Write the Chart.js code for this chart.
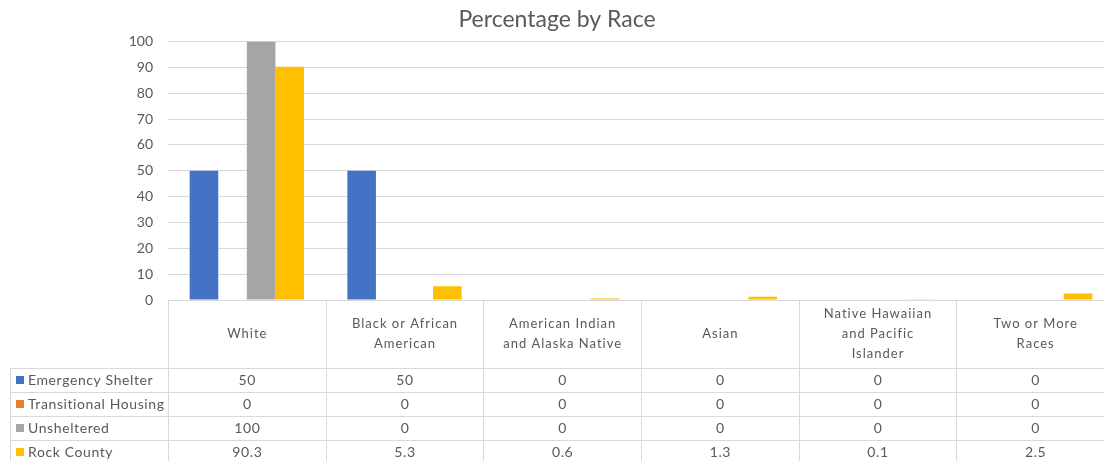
<!DOCTYPE html>
<html>
<head>
<meta charset="utf-8">
<script src="https://cdn.jsdelivr.net/npm/chart.js@4/dist/chart.umd.min.js"></script>
<style>
  html, body { margin: 0; padding: 0; background: #ffffff; overflow: hidden; width: 1104px; height: 461px; }
  #wrap { position: absolute; left: 0; top: 0; width: 1114px; height: 461px; }
</style>
</head>
<body>
<div id="wrap"><canvas id="c" width="1114" height="461"></canvas></div>
<script>
// ---- data ----
const categories = [
  ['White'],
  ['Black or African', 'American'],
  ['American Indian', 'and Alaska Native'],
  ['Asian'],
  ['Native Hawaiian', 'and Pacific', 'Islander'],
  ['Two or More', 'Races']
];
const seriesNames = ['Emergency Shelter', 'Transitional Housing', 'Unsheltered', 'Rock County'];
const emergencyShelter    = [50, 50, 0, 0, 0, 0];
const transitionalHousing = [0, 0, 0, 0, 0, 0];
const unsheltered         = [100, 0, 0, 0, 0, 0];
const rockCounty          = [90.3, 5.3, 0.6, 1.3, 0.1, 2.5];
const yTicks = [0, 10, 20, 30, 40, 50, 60, 70, 80, 90, 100];

// ---- styles ----
const colors = ['#4472C4', '#ED7D31', '#A5A5A5', '#FFC000'];
const textColor = '#595959';
const lineColor = '#d9d9d9';
const fontFamily = 'Lato, "Liberation Sans", sans-serif';

const seriesValues = [emergencyShelter, transitionalHousing, unsheltered, rockCounty];

const dataTablePlugin = {
  id: 'dataTable',
  afterDraw(chart) {
    const ctx = chart.ctx;
    const area = chart.chartArea;
    const xs = chart.scales.x;
    const n = categories.length;
    const colW = (area.right - area.left) / n;
    const top = area.bottom;
    const headerBottom = top + 68;
    const rowH = 24;
    const tableLeft = 10;
    const bottom = chart.height + 10;
    ctx.save();
    ctx.strokeStyle = lineColor;
    ctx.lineWidth = 1;
    // vertical lines
    for (let i = 0; i <= n; i++) {
      const x = Math.round(xs.getPixelForValue(i) - colW / 2) + 0.5;
      ctx.beginPath(); ctx.moveTo(x, top); ctx.lineTo(x, bottom); ctx.stroke();
    }
    // left table border
    ctx.beginPath(); ctx.moveTo(tableLeft + 0.5, headerBottom); ctx.lineTo(tableLeft + 0.5, bottom); ctx.stroke();
    // horizontal lines
    for (let r = 0; r <= seriesNames.length; r++) {
      const y = Math.round(headerBottom + r * rowH) + 0.5;
      ctx.beginPath(); ctx.moveTo(tableLeft, y); ctx.lineTo(chart.width, y); ctx.stroke();
    }
    // header labels
    ctx.fillStyle = textColor;
    ctx.font = '13px ' + fontFamily;
    ctx.letterSpacing = '1px';
    ctx.textAlign = 'center';
    ctx.textBaseline = 'middle';
    const lh = 20;
    categories.forEach((lines, i) => {
      const cx = xs.getPixelForValue(i) + 0.5;
      const cy = (top + headerBottom) / 2;
      const start = cy - (lines.length - 1) * lh / 2;
      lines.forEach((t, k) => ctx.fillText(t, cx, start + k * lh));
    });
    // rows
    ctx.font = '14px ' + fontFamily;
    ctx.letterSpacing = '0.6px';
    seriesNames.forEach((name, r) => {
      const cy = headerBottom + r * rowH + rowH / 2;
      ctx.fillStyle = colors[r];
      ctx.fillRect(16, Math.round(cy - 4), 8, 8);
      ctx.fillStyle = textColor;
      ctx.textAlign = 'left';
      ctx.fillText(name, 28, cy);
      ctx.textAlign = 'center';
      seriesValues[r].forEach((v, i) => {
        ctx.fillText(String(v), xs.getPixelForValue(i) + 0.5, cy);
      });
    });
    ctx.restore();
  }
};

new Chart(document.getElementById('c'), {
  type: 'bar',
  data: {
    labels: categories,
    datasets: seriesNames.map((name, i) => ({
      label: name,
      data: seriesValues[i],
      backgroundColor: colors[i],
      borderWidth: 0,
      categoryPercentage: 0.725,
      barPercentage: 1.0
    }))
  },
  options: {
    responsive: false,
    animation: false,
    layout: { padding: { left: 0, right: 0, top: 0, bottom: 161 } },
    plugins: {
      legend: { display: false },
      tooltip: { enabled: false },
      title: {
        display: true,
        text: 'Percentage by Race',
        color: textColor,
        font: { family: fontFamily, size: 23, weight: 'normal' },
        padding: { top: 6, bottom: 8 }
      }
    },
    scales: {
      x: {
        display: false
      },
      y: {
        min: 0,
        max: 100,
        afterFit(scale) { scale.width = 168; },
        afterBuildTicks(scale) { scale.ticks = yTicks.map(v => ({ value: v })); },
        grid: { color: lineColor, drawTicks: false },
        border: { display: false },
        ticks: {
          padding: 15,
          color: textColor,
          font: { family: fontFamily, size: 14 }
        }
      }
    }
  },
  plugins: [dataTablePlugin]
});
</script>
</body>
</html>
